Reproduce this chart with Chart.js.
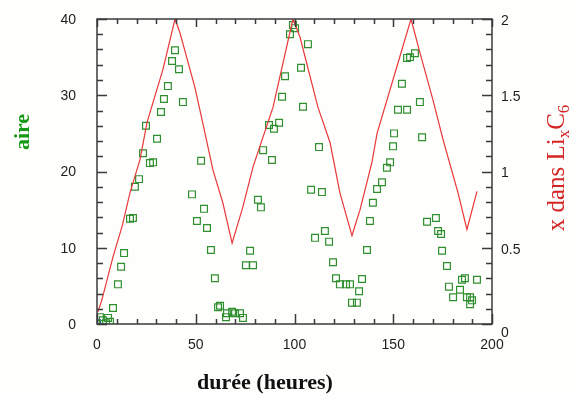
<!DOCTYPE html>
<html>
<head>
<meta charset="utf-8">
<script src="https://cdn.jsdelivr.net/npm/chart.js@4.4.1/dist/chart.umd.min.js"></script>
<style>
  html, body { margin: 0; padding: 0; background: #fefefc; }
  #wrap { width: 574px; height: 395px; }
</style>
</head>
<body>
<div id="wrap"><canvas id="c" width="574" height="395"></canvas></div>
<script>
// aire (green squares), x = heures
const aireX = [1.5, 3, 4.6, 5.6, 6.6, 8.1, 10.6, 12.2, 13.7, 16.7, 18.2, 19.2, 21.3, 23.3, 24.8, 26.8, 28.4, 30.4, 32.4, 33.9,
  35.9, 38.0, 39.5, 41.5, 43.5, 48.1, 50.6, 52.7, 54.2, 55.7, 57.7, 59.7, 61.3, 62.3, 65.3, 65.8, 68.4, 69.9, 72.4, 73.9,
  75.4, 77.5, 79.0, 81.5, 83.0, 84.1, 87.1, 88.6, 89.6, 92.2, 93.7, 95.2, 97.7, 99.2, 100.3, 103.3, 104.3, 106.8, 108.4, 110.4,
  112.4, 113.9, 115.4, 117.5, 119.5, 121.0, 123.0, 126.1, 128.1, 129.1, 131.6, 132.7, 134.2,
  136.7, 138.2, 139.7, 141.8, 144.3, 146.8, 148.4, 149.9, 150.4, 152.4, 154.4, 157.0, 157.0, 158.5, 161.0, 163.5, 164.6,
  167.1, 171.6, 172.7, 174.2, 174.7, 177.2, 178.2, 180.3, 183.8, 184.8, 186.3, 187.3, 188.9, 189.9, 188.9, 192.4];
const aireY = [0.9, 0.5, 0.1, 0.8, 0.3, 2.1, 5.2, 7.5, 9.3, 13.8, 13.9, 18.0, 19.0, 22.4, 26.0, 21.1, 21.2, 24.3, 27.8, 29.5,
  31.2, 34.5, 35.9, 33.4, 29.1, 17.0, 13.5, 21.4, 15.1, 12.6, 9.7, 6.0, 2.2, 2.4, 0.9, 1.4, 1.6, 1.4, 1.4, 0.8,
  7.7, 9.6, 7.7, 16.3, 15.3, 22.8, 26.1, 21.5, 25.6, 26.4, 29.8, 32.5, 38.0, 39.2, 38.8, 33.6, 28.5, 36.7, 17.6, 11.3,
  23.2, 17.3, 12.2, 10.8, 8.1, 6.0, 5.2, 5.2, 5.2, 2.8, 2.8, 4.3, 5.9,
  9.7, 13.5, 15.9, 17.7, 18.6, 20.5, 21.2, 23.3, 25.0, 28.1, 31.5, 28.1, 34.9, 35.0, 35.5, 29.1, 24.5,
  13.4, 13.9, 12.2, 11.8, 9.6, 7.6, 4.9, 3.5, 4.5, 5.8, 6.0, 3.5, 3.5, 3.1, 2.6, 5.8];
const startX = [0];
const startY = [0.1];

// x dans LixC6 (red line)
const lixX = [0.5, 2.5, 8.1, 12.7, 16.7, 21.8, 25.3, 33.4, 39.5, 42.0, 49.6, 54.7, 58.7, 63.8, 68.4, 73.9, 79.0, 89.1, 99.2,
  102.8, 111.9, 118.0, 123.0, 129.1, 133.2, 139.2, 141.8, 151.9, 159.0, 163.5, 170.1, 175.2, 182.8, 187.3, 192.4];
const lixY = [0.08, 0.16, 0.44, 0.64, 0.86, 1.08, 1.32, 1.67, 2.0, 1.91, 1.55, 1.25, 1.01, 0.79, 0.53, 0.77, 1.03, 1.42, 2.0,
  1.88, 1.42, 1.19, 0.86, 0.58, 0.75, 1.06, 1.25, 1.69, 2.0, 1.78, 1.47, 1.21, 0.86, 0.62, 0.87];

const xTickLabels = [0, 50, 100, 150, 200];
const yTickLabels = [0, 10, 20, 30, 40];
const y2TickLabels = [0, 0.5, 1, 1.5, 2];

function pts(xs, ys) { return xs.map((x, i) => ({ x: x, y: ys[i] })); }

const frame = {
  id: 'frame',
  afterDraw(chart) {
    const ctx = chart.ctx, a = chart.chartArea;
    const sx = chart.scales.x, sy = chart.scales.y, sy2 = chart.scales.y2;
    ctx.save();
    ctx.strokeStyle = '#3a3a3a';
    ctx.lineWidth = 1.5;
    ctx.strokeRect(a.left, a.top, a.right - a.left, a.bottom - a.top);
    ctx.beginPath();
    // x ticks, top and bottom, every 10
    for (let v = 0; v <= 200; v += 10) {
      const p = Math.round(sx.getPixelForValue(v)) + 0.5;
      const big = v % 50 === 0;
      ctx.moveTo(p, a.bottom); ctx.lineTo(p, a.bottom - (big ? 10 : 5));
      ctx.moveTo(p, a.top); ctx.lineTo(p, a.top + (big ? 8 : 5));
    }
    // left ticks every 2
    for (let v = 0; v <= 40; v += 2) {
      const p = Math.round(sy.getPixelForValue(v)) + 0.5;
      ctx.moveTo(a.left, p); ctx.lineTo(a.left + (v % 10 === 0 ? 10 : 6), p);
    }
    // right ticks every 0.1
    for (let k = 0; k <= 20; k++) {
      const p = Math.round(sy2.getPixelForValue(k / 10)) + 0.5;
      ctx.moveTo(a.right, p); ctx.lineTo(a.right - (k % 5 === 0 ? 10 : 6), p);
    }
    ctx.stroke();

    // tick labels
    ctx.fillStyle = '#1e1e1e';
    ctx.font = '14px "Liberation Sans", Arial, sans-serif';
    ctx.textBaseline = 'middle';
    ctx.textAlign = 'center';
    xTickLabels.forEach(v => ctx.fillText(String(v), sx.getPixelForValue(v), a.bottom + 21));
    ctx.textAlign = 'right';
    yTickLabels.forEach(v => ctx.fillText(String(v), a.left - 21, sy.getPixelForValue(v) + 1));
    ctx.textAlign = 'left';
    y2TickLabels.forEach(v => {
      const p = sy2.getPixelForValue(v) + (v === 0 ? 9 : 2);
      ctx.fillText(String(v), a.right + 9, p);
    });

    // axis titles
    ctx.font = 'bold 22px "Liberation Serif", "Times New Roman", serif';
    ctx.fillStyle = '#111';
    ctx.textAlign = 'center';
    ctx.textBaseline = 'alphabetic';
    ctx.fillText('durée (heures)', 265, 389);

    ctx.save();
    ctx.translate(29, 132);
    ctx.rotate(-Math.PI / 2);
    ctx.fillStyle = '#159a15';
    ctx.font = 'bold 22px "Liberation Serif", "Times New Roman", serif';
    ctx.textAlign = 'center';
    ctx.fillText('aire', 0, 0);
    ctx.restore();

    // x dans Li_x C_6
    ctx.save();
    ctx.translate(564, 168);
    ctx.rotate(-Math.PI / 2);
    ctx.fillStyle = '#d42525';
    const big = '25px "Liberation Serif", "Times New Roman", serif';
    const sub = '17px "Liberation Serif", "Times New Roman", serif';
    const parts = [['x dans Li', big, 0], ['x', sub, 5], ['C', big, 0], ['6', sub, 5]];
    let w = 0;
    parts.forEach(p => { ctx.font = p[1]; w += ctx.measureText(p[0]).width; });
    let cx = -w / 2;
    ctx.textAlign = 'left';
    parts.forEach(p => { ctx.font = p[1]; ctx.fillText(p[0], cx, p[2]); cx += ctx.measureText(p[0]).width; });
    ctx.restore();

    ctx.restore();
  }
};

new Chart(document.getElementById('c'), {
  type: 'scatter',
  data: {
    datasets: [
      { label: 'x dans LixC6', data: pts(lixX, lixY), yAxisID: 'y2', showLine: true, borderColor: '#e8383a',
        borderWidth: 1.2, pointRadius: 0, tension: 0, fill: false },
      { label: 'aire', data: pts(aireX, aireY), yAxisID: 'y', pointStyle: 'rect', pointRadius: 4.8,
        borderColor: '#2f8f2f', backgroundColor: 'rgba(0,0,0,0)', pointBorderWidth: 1.2 },
      { label: 'start', data: pts(startX, startY), yAxisID: 'y', pointStyle: 'rect', pointRadius: 4.8,
        borderColor: '#2a3fd0', backgroundColor: 'rgba(0,0,0,0)', pointBorderWidth: 1.2 }
    ]
  },
  options: {
    responsive: false,
    animation: false,
    layout: { padding: { top: 19, left: 0, right: 0, bottom: 0 } },
    plugins: { legend: { display: false }, tooltip: { enabled: false } },
    scales: {
      x: { type: 'linear', min: 0, max: 200, grid: { display: false }, border: { display: false },
        ticks: { display: false }, afterFit: s => { s.height = 71; } },
      y: { position: 'left', min: 0, max: 40, grid: { display: false }, border: { display: false },
        ticks: { display: false }, afterFit: s => { s.width = 97; } },
      y2: { position: 'right', min: 0, max: 2, grid: { display: false }, border: { display: false },
        ticks: { display: false }, afterFit: s => { s.width = 82; } }
    }
  },
  plugins: [frame]
});
</script>
</body>
</html>
